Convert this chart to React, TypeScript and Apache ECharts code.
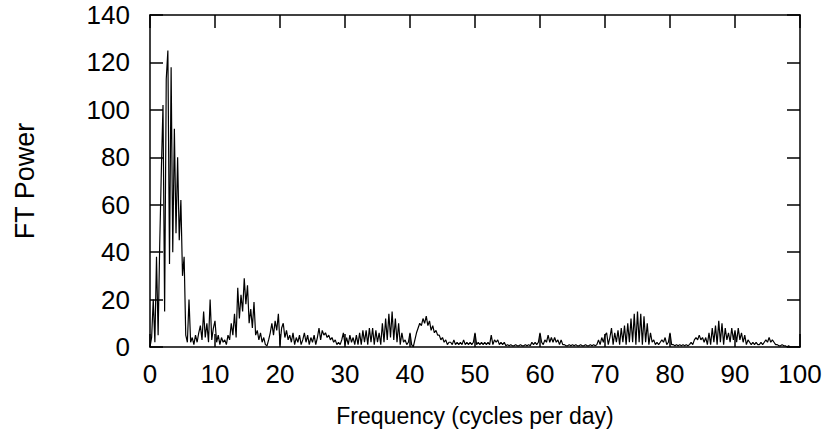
import React, { useEffect, useRef } from "react";
import * as echarts from "echarts";

// Frequency grid step (cycles per day)
const FREQ_STEP = 0.25;

// FT power, one value per 0.25 c/d, from 0 to 100
const power: number[] = [
  // 0 - 5.75
  0, 4, 20, 2, 38, 5, 44, 75, 102, 15, 113, 125, 35, 118, 40, 92, 48, 80, 45, 62, 30, 38, 5, 2,
  // 6 - 11.75
  20, 2, 4, 1, 5, 2, 6, 9, 3, 15, 4, 10, 2, 20, 3, 8, 11, 2, 5, 1, 4, 2, 3, 1,
  // 12 - 17.75
  5, 3, 10, 5, 14, 4, 25, 12, 22, 15, 29, 18, 26, 10, 16, 8, 19, 5, 7, 3, 6, 2, 4, 1,
  // 18 - 23.75
  0.5, 3, 6, 10, 5, 11, 7, 14, 1, 8, 10, 4, 7, 3, 5, 2, 6, 1, 4, 2, 5, 1, 3, 6,
  // 24 - 29.75
  2, 5, 1, 4, 2, 5, 1, 4, 8, 3, 7, 5, 6, 4, 5, 3, 4, 2, 3, 1, 2, 1, 3, 6,
  // 30 - 35.75
  1, 4, 1, 5, 2, 4, 1, 5, 1, 6, 1, 7, 2, 7, 1, 8, 2, 8, 1, 7, 2, 6, 1, 10,
  // 36 - 41.75
  2, 12, 3, 14, 4, 15, 3, 12, 2, 10, 1, 6, 2, 3, 1, 2, 6, 1, 0, 3, 6, 8, 10, 9,
  // 42 - 47.75
  12, 10, 13, 9, 11, 7, 9, 6, 7, 5, 5, 3, 4, 2, 3, 1, 2, 2, 1, 3, 1, 2, 1, 2,
  // 48 - 53.75
  1, 3, 1, 2, 1, 2, 1, 2, 6, 1, 2, 1, 2, 1, 2, 1, 2, 1, 5, 1, 3, 2, 3, 1,
  // 54 - 59.75
  2, 1, 2, 0.5, 1, 0.5, 1, 0.5, 0.5, 1, 0.5, 0.5, 1, 0.5, 0.5, 1, 0.5, 1, 0.5, 2, 1, 2, 1, 2,
  // 60 - 65.75
  6, 2, 1, 3, 2, 5, 2, 4, 2, 4, 2, 3, 1, 3, 1, 1, 0.5, 0.5, 1, 0.5, 1, 0.5, 1, 0.5,
  // 66 - 71.75
  0.5, 1, 0.5, 0.5, 1, 0.5, 0.5, 1, 0.5, 1, 0.5, 1, 3, 1, 4, 2, 5, 6, 1, 4, 8, 1, 6, 2,
  // 72 - 77.75
  7, 1, 8, 2, 9, 1, 10, 2, 12, 2, 14, 1, 15, 2, 14, 1, 13, 2, 10, 1, 6, 2, 3, 1,
  // 78 - 83.75
  2, 1, 2, 3, 2, 4, 1, 2, 6, 1, 1, 0.5, 1, 0.5, 1, 0.5, 1, 0.5, 1, 0.5, 1, 2, 1, 3,
  // 84 - 89.75
  4, 3, 5, 3, 4, 2, 4, 1, 6, 1, 8, 2, 9, 1, 11, 2, 10, 1, 8, 3, 6, 2, 8, 3,
  // 90 - 95.75
  7, 2, 8, 3, 6, 2, 5, 1, 3, 2, 1, 2, 1, 2, 1, 1, 2, 1, 2, 3, 2, 4, 2, 3,
  // 96 - 100
  2, 1, 1, 0.5, 0.5, 1, 0.5, 0.5, 0, 0.5, 0, 0, 0, 0, 0, 0, 0,
];

const xTicks = { min: 0, max: 100, interval: 10 };
const yTicks = { min: 0, max: 140, interval: 20 };

const FONT = "'Liberation Sans', Arial, sans-serif";
const FS = 26;

export default function App() {
  const ref = useRef<HTMLDivElement>(null);
  useEffect(() => {
    if (!ref.current) return;
    const chart = echarts.init(ref.current, undefined, { renderer: "svg" });
    const data = power.map((p, i) => [i * FREQ_STEP, p]);
    const axisLine = { show: true, onZero: false, lineStyle: { color: "#000", width: 1.5 } };
    const tick = { show: true, inside: true, length: 13, lineStyle: { color: "#000", width: 1.5 } };
    chart.setOption({
      animation: false,
      backgroundColor: "#fff",
      grid: { left: 150, top: 15, right: 33, bottom: 96, containLabel: false },
      xAxis: [
        {
          type: "value",
          ...xTicks,
          position: "bottom",
          name: "Frequency (cycles per day)",
          nameLocation: "middle",
          nameGap: 57,
          nameTextStyle: { fontFamily: FONT, fontSize: 23, color: "#000" },
          axisLine,
          axisTick: tick,
          axisLabel: { fontFamily: FONT, fontSize: FS, color: "#000", margin: 14 },
          splitLine: { show: false },
        },
        {
          type: "value",
          ...xTicks,
          position: "top",
          axisLine,
          axisTick: tick,
          axisLabel: { show: false },
          splitLine: { show: false },
        },
      ],
      yAxis: [
        {
          type: "value",
          ...yTicks,
          position: "left",
          name: "FT Power",
          nameLocation: "middle",
          nameGap: 112,
          nameTextStyle: { fontFamily: FONT, fontSize: 27, color: "#000" },
          axisLine,
          axisTick: tick,
          axisLabel: { fontFamily: FONT, fontSize: FS, color: "#000", margin: 20 },
          splitLine: { show: false },
        },
        {
          type: "value",
          ...yTicks,
          position: "right",
          axisLine,
          axisTick: tick,
          axisLabel: { show: false },
          splitLine: { show: false },
        },
      ],
      series: [
        {
          type: "line",
          data,
          xAxisIndex: 0,
          yAxisIndex: 0,
          showSymbol: false,
          symbol: "none",
          lineStyle: { color: "#000", width: 1.2 },
        },
      ],
    });
    return () => chart.dispose();
  }, []);
  return <div ref={ref} style={{ width: 833, height: 443, position: "absolute", left: 0, top: 0 }} />;
}
